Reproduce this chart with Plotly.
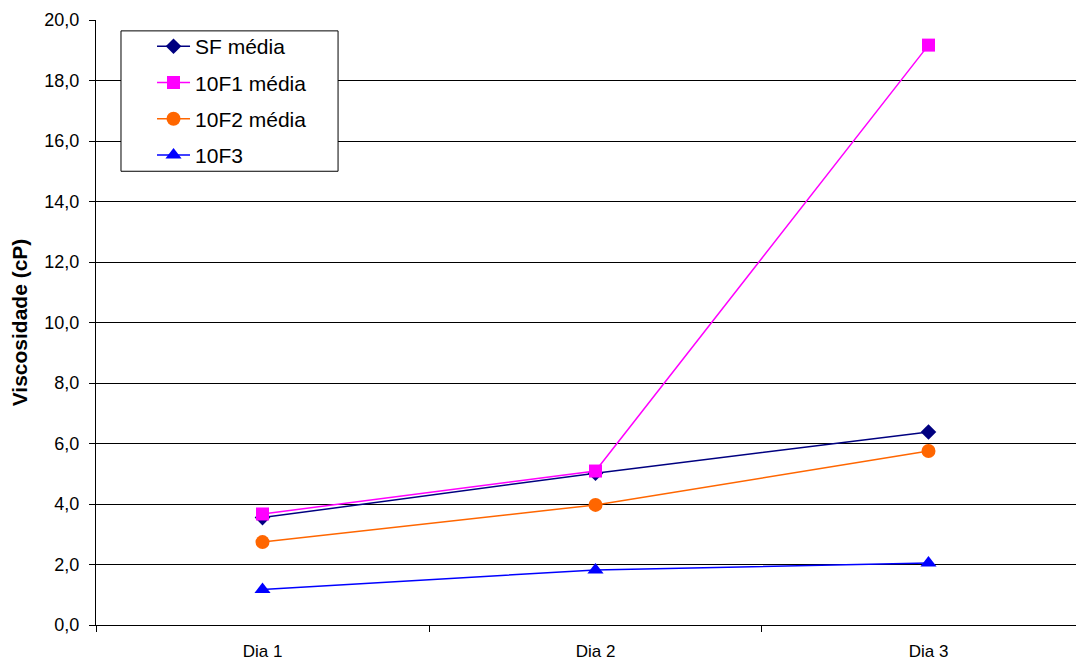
import plotly.graph_objects as go

# Dados
dias = ["Dia 1", "Dia 2", "Dia 3"]
sf_media = [3.55, 5.02, 6.38]
f1_media = [3.67, 5.09, 19.17]
f2_media = [2.74, 3.97, 5.75]
f3 = [1.17, 1.82, 2.05]

series = [
    ("SF média", sf_media, "#000080", "diamond", 12),
    ("10F1 média", f1_media, "#FF00FF", "square", 13),
    ("10F2 média", f2_media, "#FF6600", "circle", 14),
    ("10F3", f3, "#0000FF", "triangle-up", 14),
]

fig = go.Figure()

for nome, valores, cor, simbolo, tamanho in series:
    fig.add_trace(
        go.Scatter(
            x=dias,
            y=valores,
            name=nome,
            legendgroup=nome,
            mode="lines+markers",
            line=dict(color=cor, width=1.5),
            marker=dict(symbol=simbolo, size=tamanho, color=cor),
        )
    )

# caixa da legenda
fig.add_shape(
    type="rect",
    xref="paper",
    yref="paper",
    x0=0.0253,
    x1=0.245,
    y0=0.750,
    y1=0.982,
    line=dict(color="black", width=1),
    fillcolor="white",
    layer="above",
)

# a página tem 8px de margem no body: compensar nas margens
fig.update_layout(
    width=1084,
    height=662,
    margin=dict(l=88, r=8, t=12, b=45),
    plot_bgcolor="white",
    paper_bgcolor="white",
    separators=",.",
    font=dict(family="Liberation Sans, Arial", size=18, color="black"),
    showlegend=True,
    legend=dict(
        x=0.0567,
        y=0.99,
        xanchor="left",
        yanchor="top",
        borderwidth=0,
        bgcolor="rgba(0,0,0,0)",
        font=dict(size=21),
        tracegroupgap=6,
        itemwidth=33,
    ),
)

fig.update_xaxes(
    type="category",
    range=[-0.5, 2.467],
    showline=True,
    linecolor="black",
    linewidth=1,
    ticks="outside",
    tickson="boundaries",
    ticklen=6,
    tickcolor="black",
    showgrid=False,
    automargin=False,
    ticklabelstandoff=11,
    tickfont=dict(size=17),
)

fig.update_yaxes(
    range=[0, 20],
    dtick=2,
    tickformat=".1f",
    showline=True,
    linecolor="black",
    linewidth=1,
    ticks="outside",
    ticklen=6,
    tickcolor="black",
    showgrid=True,
    gridcolor="black",
    gridwidth=1,
    zeroline=False,
    automargin=False,
    ticklabelstandoff=6,
    tickfont=dict(size=18),
    title=dict(
        text="<b>Viscosidade (cP)</b>",
        font=dict(size=21),
        standoff=14,
    ),
)

fig.write_html("out.html")
